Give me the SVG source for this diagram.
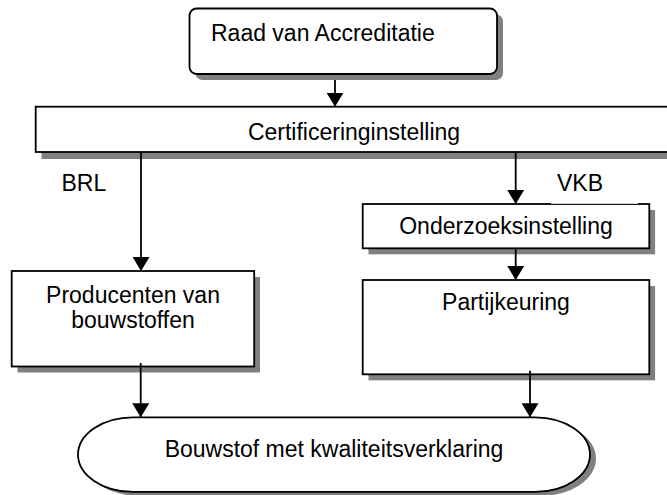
<svg xmlns="http://www.w3.org/2000/svg" width="667" height="495" viewBox="0 0 667 495">
<style>
.box{fill:#ffffff;stroke:#000000;stroke-width:1.8}
.t{font-family:"Liberation Sans",Arial,sans-serif;font-size:23px;fill:#000000}
.c{text-anchor:middle}
.ln{stroke:#000000;stroke-width:1.8;fill:none}
.sh{fill:#808080;stroke:none}
</style>
<defs>
<marker id="ah" viewBox="0 0 14 17" refX="14" refY="8.5" markerWidth="14" markerHeight="17" markerUnits="userSpaceOnUse" orient="auto">
<path d="M0,0 L14,8.5 L0,17 Z" fill="#000000"/>
</marker>
</defs>
<rect x="0" y="0" width="667" height="495" fill="#ffffff"/>
<g id="raad">
<rect class="sh" x="195.5" y="14.5" width="307.5" height="65.5" rx="7"/>
<rect class="box" x="189.5" y="8.5" width="307.5" height="65.5" rx="7"/>
<text class="t" x="211" y="41">Raad van Accreditatie</text>
</g>
<g id="cert">
<rect class="sh" x="41.5" y="112.5" width="640" height="46.5"/>
<rect class="box" x="35.7" y="106.7" width="640" height="45.3"/>
<text class="t c" x="354" y="139.5">Certificeringinstelling</text>
</g>
<g id="brl">
<text class="t" x="61.5" y="191">BRL</text>
</g>
<g id="producenten">
<rect class="sh" x="17.5" y="277" width="242.5" height="95.5"/>
<rect class="box" x="11.7" y="271" width="242.5" height="95.5"/>
<text class="t c" x="133" y="302.7">Producenten van</text>
<text class="t c" x="133" y="327.7">bouwstoffen</text>
</g>
<g id="onderzoek">
<rect class="sh" x="368.5" y="210" width="286.6" height="44.3"/>
<rect class="box" x="362.7" y="204" width="286.6" height="44.3"/>
<text class="t c" x="506" y="234">Onderzoeksinstelling</text>
</g>
<g id="vkb">
<rect x="551" y="170" width="87" height="33.8" fill="#ffffff"/>
<text class="t" x="557" y="191">VKB</text>
</g>
<g id="partij">
<rect class="sh" x="368.5" y="286" width="286.6" height="94.3"/>
<rect class="box" x="362.7" y="280" width="286.6" height="94.3"/>
<text class="t c" x="506" y="310">Partijkeuring</text>
</g>
<g id="bouwstof">
<path class="sh" d="M139 421.3 H541 A55 37.3 0 0 1 541 495.9 H139 A55 37.3 0 0 1 139 421.3 Z"/>
<path class="box" d="M133 417.3 H535 A55 37.3 0 0 1 535 491.9 H133 A55 37.3 0 0 1 133 417.3 Z"/>
<text class="t c" x="334" y="456.7">Bouwstof met kwaliteitsverklaring</text>
</g>
<g id="connectors">
<line class="ln" x1="335" y1="80" x2="335" y2="106.7" marker-end="url(#ah)"/>
<line class="ln" x1="141" y1="152" x2="141" y2="271" marker-end="url(#ah)"/>
<line class="ln" x1="515.7" y1="152" x2="515.7" y2="204" marker-end="url(#ah)"/>
<line class="ln" x1="515.7" y1="248.3" x2="515.7" y2="280" marker-end="url(#ah)"/>
<line class="ln" x1="140.7" y1="363" x2="140.7" y2="417.3" marker-end="url(#ah)"/>
<line class="ln" x1="530" y1="370.7" x2="530" y2="417.3" marker-end="url(#ah)"/>
</g>
</svg>
